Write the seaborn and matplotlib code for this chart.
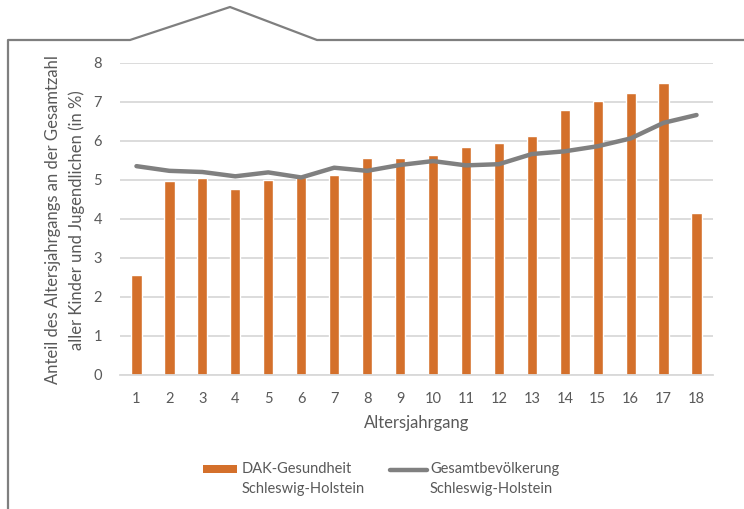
import matplotlib
matplotlib.use("Agg")
import matplotlib.pyplot as plt
from matplotlib.lines import Line2D
from matplotlib.patches import Rectangle
import numpy as np
import pandas as pd
import seaborn as sns

# Age cohorts and shares (in %)
ages = [str(a) for a in range(1, 19)]
dak_share = [2.56, 4.96, 5.04, 4.76, 4.99, 5.07, 5.12, 5.55, 5.55, 5.63,
             5.84, 5.94, 6.12, 6.79, 7.02, 7.22, 7.48, 4.14]
pop_share = [5.35, 5.23, 5.20, 5.09, 5.19, 5.06, 5.31, 5.23, 5.38, 5.48,
             5.37, 5.40, 5.66, 5.73, 5.86, 6.06, 6.46, 6.66]
y_ticks = [0, 1, 2, 3, 4, 5, 6, 7, 8]

bar_label = "DAK-Gesundheit\nSchleswig-Holstein"
line_label = "Gesamtbevölkerung\nSchleswig-Holstein"
y_title = "Anteil des Altersjahrgangs an der Gesamtzahl\naller Kinder und Jugendlichen (in %)"
x_title = "Altersjahrgang"

orange = "#D4702B"
grey_line = "#808080"
text_grey = "#595959"
grid_grey = "#D9D9D9"

sns.set_theme(style="white")
plt.rcParams["font.family"] = ["Lato", "DejaVu Sans"]

df = pd.DataFrame({"age": ages, "dak": dak_share, "pop": pop_share})
df["pos"] = np.arange(len(ages))

W, H = 744, 509


def fx(px):
    return px / W


def fy(py):
    return 1 - py / H


fig = plt.figure(figsize=(W / 100, H / 100), dpi=100)
ax = fig.add_axes([fx(120), fy(375), (713 - 120) / W, (375 - 62.7) / H])

sns.barplot(data=df, x="age", y="dak", color=orange, width=0.31,
            saturation=1, ax=ax, zorder=2)
sns.lineplot(data=df, x="pos", y="pop", color=grey_line, linewidth=3.2,
             ax=ax, zorder=3)

ax.set_xlim(-0.5, len(ages) - 0.5)
ax.set_ylim(0, 8)
ax.set_yticks(y_ticks)
ax.yaxis.grid(True, color=grid_grey, linewidth=1.3, zorder=0)
ax.set_axisbelow(True)
for side in ["top", "right", "left"]:
    ax.spines[side].set_visible(False)
ax.spines["bottom"].set_color(grid_grey)
ax.spines["bottom"].set_linewidth(1.3)
ax.tick_params(axis="both", length=0, labelsize=10.5, labelcolor=text_grey)
ax.tick_params(axis="y", pad=13)
ax.tick_params(axis="x", pad=12)
ax.set_xlabel("")
ax.set_ylabel("")

# Axis titles
fig.text(fx(416.5), fy(423), x_title, fontsize=12, color=text_grey,
         ha="center", va="center")
fig.text(fx(65), fy(220), y_title, fontsize=12, color=text_grey,
         rotation=90, ha="center", va="center", multialignment="center",
         linespacing=1.6)

# Legend below the axes, handles aligned with the first text line
fig.add_artist(Rectangle((fx(203), fy(473)), 34 / W, 8 / H, facecolor=orange,
                         edgecolor="none", transform=fig.transFigure))
fig.text(fx(242), fy(462), bar_label, fontsize=10.5, color=text_grey,
         ha="left", va="top", linespacing=1.55)
fig.add_artist(Line2D([fx(390), fx(427)], [fy(470), fy(470)], color=grey_line,
                      linewidth=3.2, solid_capstyle="round",
                      transform=fig.transFigure))
fig.text(fx(430), fy(462), line_label, fontsize=10.5, color=text_grey,
         ha="left", va="top", linespacing=1.55)

# Decorative frame with a gable on top
frame_x = [fx(v) for v in [8, 8, 130, 230, 317, 744]]
frame_y = [fy(v) for v in [509, 40, 40, 7, 40, 40]]
fig.add_artist(Line2D(frame_x, frame_y, color="#7F7F7F", linewidth=1.6,
                      transform=fig.transFigure))

fig.savefig("out.png", dpi=100)
